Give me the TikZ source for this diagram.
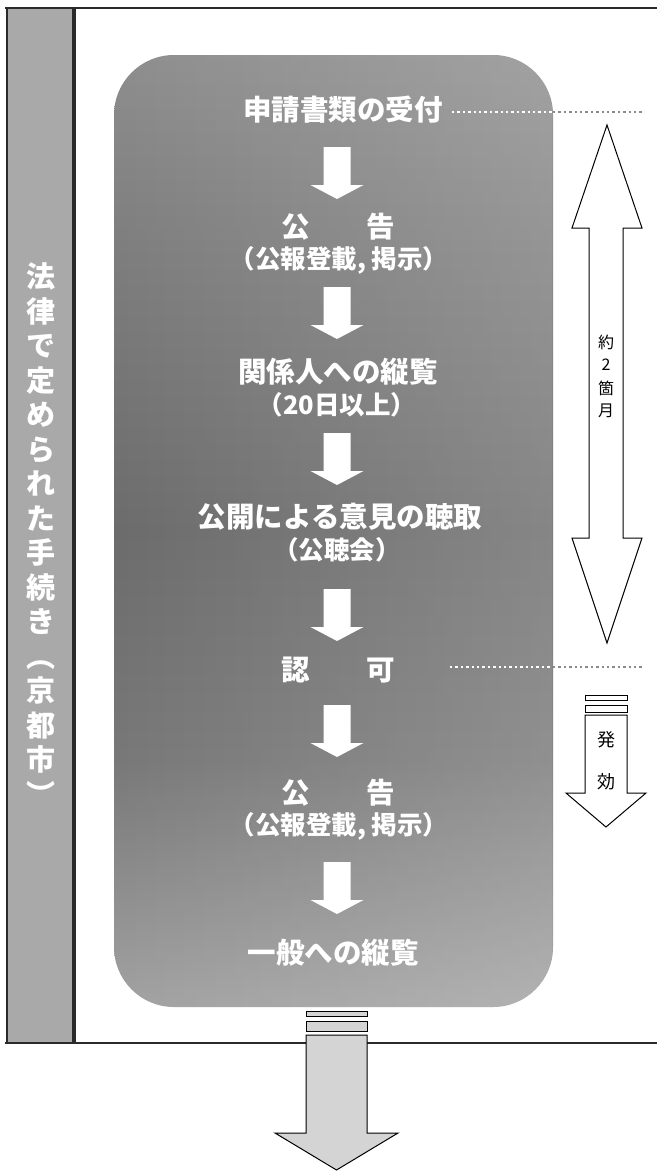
\documentclass[tikz,border=0pt]{standalone}
\usepackage{fontspec}
\newfontfamily\jp{Noto Sans CJK JP}
\usetikzlibrary{fadings}
\definecolor{colgray}{HTML}{A9A9A9}
\definecolor{framec}{HTML}{2A2A2A}
\definecolor{bxtop}{HTML}{8E8E8E}
\definecolor{bxupper}{HTML}{7E7E7E}
\definecolor{bxmid}{HTML}{6C6C6C}
\definecolor{bxlow}{HTML}{787878}
\definecolor{bxbot}{HTML}{A2A2A2}
\definecolor{dotgray}{HTML}{8A8A8A}
\definecolor{arrgray}{HTML}{D4D4D4}
\pgfdeclareverticalshading{boxv}{100bp}{color(0bp)=(bxbot); color(25bp)=(bxbot); color(38bp)=(bxlow); color(50bp)=(bxmid); color(65bp)=(bxupper); color(75bp)=(bxtop); color(100bp)=(bxtop)}
\tikzfading[name=fadeR, left color=transparent!100, right color=transparent!0]
\newcommand{\wdarrow}[2]{\fill[white] (#1-13.5,#2) -- (#1+13.5,#2) -- (#1+13.5,#2+38) -- (#1+26.5,#2+38) -- (#1,#2+52) -- (#1-26.5,#2+38) -- (#1-13.5,#2+38) -- cycle;}
\begin{document}
\begin{tikzpicture}[x=1pt,y=-1pt,
  maintext/.style={text=white, inner sep=0pt, font=\jp\bfseries\fontsize{28.5}{30}\selectfont},
  subtext/.style={text=white, inner sep=0pt, font=\jp\bfseries\fontsize{25.5}{27}\selectfont},
  coltext/.style={text=white, inner sep=0pt, text height=22pt, text depth=3pt, font=\jp\bfseries\fontsize{29}{30}\selectfont},
  sidetext/.style={text=black, inner sep=0pt, font=\jp\fontsize{16}{17}\selectfont},
  sidetextb/.style={text=black, inner sep=0pt, font=\jp\fontsize{18}{19}\selectfont},
  blockout/.style={draw=black, line width=1pt, line join=miter},
  dotin/.style={white, line width=2.4pt, dash pattern=on 2.4pt off 3pt},
  dotout/.style={dotgray, line width=2.4pt, dash pattern=on 2.4pt off 3pt},
  frameline/.style={framec, line width=2.6pt}]
\useasboundingbox (0,0) rectangle (657,1171);
\fill[white] (0,0) rectangle (657,1171);
% left column
\fill[colgray] (7,8) rectangle (74,1043);
\draw[framec, line width=1.4pt] (7,8) -- (7,1043);
\draw[framec, line width=4pt] (74,8) -- (74,1043);
\draw[frameline] (5,8) -- (657,8);
\draw[frameline] (5,1043) -- (657,1043);
\foreach \ch [count=\i] in {法,律,で,定,め,ら,れ,た,手,続,き,︵,京,都,市,︶}
  \node[coltext] (c\i) at (40.5, {278+34.5*(\i-1)}) {\ch};
% main rounded box
\shade[shading=boxv, rounded corners=60pt] (114,55) rectangle (553,1007);
\fill[white, opacity=0.18, path fading=fadeR, rounded corners=60pt] (114,55) rectangle (553,1007);
% texts
\node[maintext] (t1) at (343,110) {申請書類の受付};
\node[maintext] (t2) at (338,227) {公　　告};
\node[subtext] (t2s) at (339,260) {（公報登載, 掲示）};
\node[maintext] (t3) at (338,372) {関係人への縦覧};
\node[subtext] (t3s) at (337,405) {（20日以上）};
\node[maintext] (t4) at (340,517) {公開による意見の聴取};
\node[subtext] (t4s) at (337,550) {（公聴会）};
\node[maintext] (t5) at (338,670) {認　　可};
\node[maintext] (t6) at (338,793) {公　　告};
\node[subtext] (t6s) at (339,826) {（公報登載, 掲示）};
\node[maintext] (t7) at (333,953) {一般への縦覧};
% white flow arrows
\wdarrow{337}{147}
\wdarrow{337}{287}
\wdarrow{337}{433}
\wdarrow{337}{589}
\wdarrow{337}{705}
\wdarrow{337}{862}
% dotted lines
\coordinate (d1a) at (452,112);
\coordinate (d1b) at (553,112);
\coordinate (d1c) at (643,112);
\coordinate (d2a) at (450,667);
\coordinate (d2b) at (553,667);
\coordinate (d2c) at (643,667);
\draw[dotin] (d1a) -- (d1b);
\draw[dotout] (d1b) -- (d1c);
\draw[dotin] (d2a) -- (d2b);
\draw[dotout] (d2b) -- (d2c);
% double arrow (about 2 months)
\draw[blockout, fill=white] (607,125) -- (642,228) -- (623,228) -- (623,538) -- (642,538) -- (607,643) -- (572,538) -- (589,538) -- (589,228) -- (572,228) -- cycle;
\node[sidetext] (m1) at (606,342) {約};
\node[sidetext] (m2) at (606,365) {2};
\node[sidetext] (m3) at (606,388) {箇};
\node[sidetext] (m4) at (606,411) {月};
% effect arrow
\draw[blockout, fill=white] (585,695) rectangle (627,700);
\draw[blockout, fill=white] (585,705) rectangle (627,712);
\draw[blockout, fill=white] (585,715) -- (627,715) -- (627,793) -- (646,793) -- (606,827) -- (566,793) -- (585,793) -- cycle;
\node[sidetextb] (e1) at (606,740) {発};
\node[sidetextb] (e2) at (606,782) {効};
% bottom big arrow
\draw[blockout, fill=arrgray] (306,1011) rectangle (367,1016);
\draw[blockout, fill=arrgray] (306,1021) rectangle (367,1031);
\draw[blockout, fill=arrgray] (306,1035) -- (367,1035) -- (367,1133) -- (398,1133) -- (336.5,1170) -- (275,1133) -- (306,1133) -- cycle;
\end{tikzpicture}
\end{document}
